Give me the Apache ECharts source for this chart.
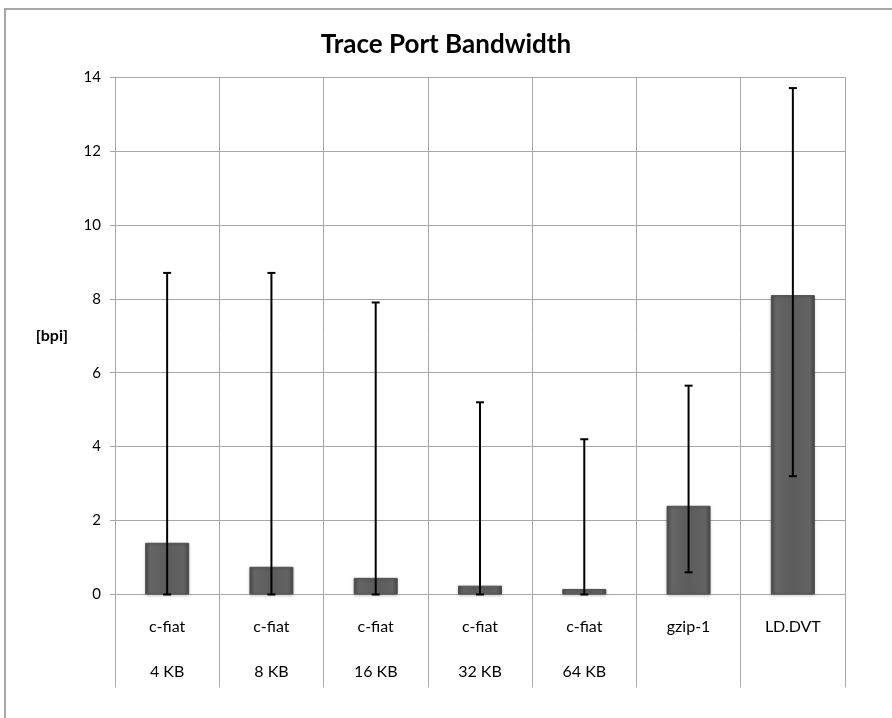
<!DOCTYPE html>
<html>
<head>
<meta charset="utf-8">
<style>
  html, body { margin: 0; padding: 0; background: #fff; }
  #chart { width: 892px; height: 718px; }
</style>
<script src="https://cdn.jsdelivr.net/npm/echarts@6/dist/echarts.min.js"></script>
</head>
<body>
<div id="chart"></div>
<script>
// data
var categories = ['c-fiat\n4 KB', 'c-fiat\n8 KB', 'c-fiat\n16 KB', 'c-fiat\n32 KB', 'c-fiat\n64 KB', 'gzip-1', 'LD.DVT'];
var bandwidth = [1.4, 0.75, 0.45, 0.24, 0.15, 2.4, 8.1];
var errLow = [0, 0, 0, 0, 0, 0.6, 3.2];
var errHigh = [8.7, 8.7, 7.9, 5.2, 4.2, 5.65, 13.7];
var yTicks = { min: 0, max: 14, interval: 2 };

var font = 'Lato, "Open Sans", sans-serif';
var gridColor = '#a8a8a8';

var chart = echarts.init(document.getElementById('chart'));

var errData = categories.map(function (c, i) { return [i, errLow[i], errHigh[i]]; });

var option = {
  animation: false,
  textStyle: { fontFamily: font, color: '#000' },
  title: {
    text: 'Trace Port Bandwidth',
    left: 'center',
    top: 27,
    textStyle: { fontFamily: font, fontSize: 26, fontWeight: 'bold', color: '#000' }
  },
  graphic: [{
    type: 'rect',
    shape: { x: 5, y: 9, width: 1000, height: 1000 },
    style: { fill: null, stroke: '#a6a6a6', lineWidth: 2 },
    silent: true
  }],
  grid: { left: 115, right: 47, top: 77, bottom: 123.5, containLabel: false },
  xAxis: {
    type: 'category',
    data: categories,
    boundaryGap: true,
    axisLine: { show: true, lineStyle: { color: gridColor, width: 1 } },
    axisTick: { show: true, length: 93, alignWithLabel: false, lineStyle: { color: gridColor } },
    splitLine: { show: true, lineStyle: { color: gridColor, width: 1 } },
    axisLabel: {
      interval: 0,
      margin: 10,
      fontSize: 16,
      lineHeight: 45,
      color: '#000',
      fontFamily: font
    }
  },
  yAxis: {
    type: 'value',
    min: yTicks.min,
    max: yTicks.max,
    interval: yTicks.interval,
    name: '[bpi]',
    nameLocation: 'middle',
    nameRotate: 0,
    nameGap: 47,
    nameTextStyle: { fontFamily: font, fontSize: 16, fontWeight: 'bold', color: '#000', align: 'right' },
    axisLine: { show: true, lineStyle: { color: gridColor } },
    axisTick: { show: true, length: 5, lineStyle: { color: gridColor } },
    splitLine: { show: true, lineStyle: { color: gridColor, width: 1 } },
    axisLabel: { margin: 14, fontSize: 15, color: '#000', fontFamily: font }
  },
  series: [
    {
      type: 'bar',
      data: bandwidth,
      barWidth: 44,
      itemStyle: {
        color: new echarts.graphic.LinearGradient(0, 0, 1, 0, [
          { offset: 0, color: '#4b4b4b' },
          { offset: 0.12, color: '#656565' },
          { offset: 0.5, color: '#5c5c5c' },
          { offset: 0.88, color: '#636363' },
          { offset: 1, color: '#474747' }
        ]),
        borderColor: '#505050',
        borderWidth: 1,
        shadowColor: 'rgba(0,0,0,0.25)',
        shadowBlur: 3,
        shadowOffsetY: 1
      }
    },
    {
      type: 'custom',
      data: errData,
      z: 10,
      renderItem: function (params, api) {
        var x = api.value(0);
        var lo = api.coord([x, api.value(1)]);
        var hi = api.coord([x, api.value(2)]);
        var cap = 4;
        var style = { stroke: '#000', lineWidth: 2 };
        return {
          type: 'group',
          children: [
            { type: 'line', shape: { x1: lo[0], y1: lo[1], x2: hi[0], y2: hi[1] }, style: style },
            { type: 'line', shape: { x1: hi[0] - cap, y1: hi[1], x2: hi[0] + cap, y2: hi[1] }, style: style },
            { type: 'line', shape: { x1: lo[0] - cap, y1: lo[1], x2: lo[0] + cap, y2: lo[1] }, style: style }
          ]
        };
      }
    }
  ]
};

chart.setOption(option);
</script>
</body>
</html>
